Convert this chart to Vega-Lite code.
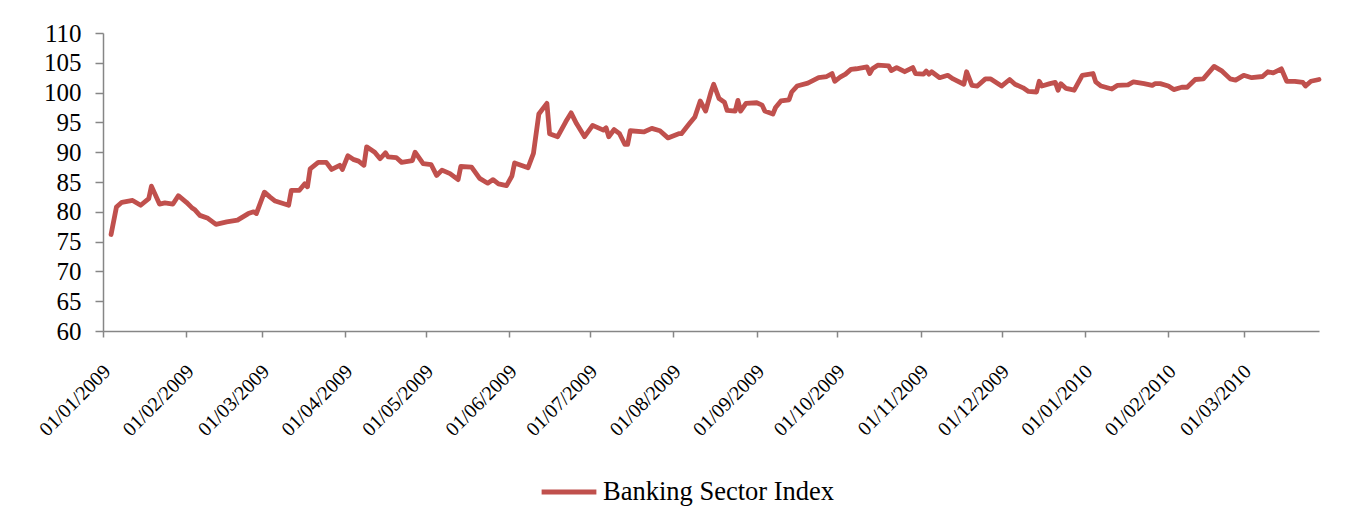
{
  "$schema": "https://vega.github.io/schema/vega-lite/v6.json",
  "width": 1216,
  "height": 298,
  "autosize": {"type": "none"},
  "padding": {"left": 103, "top": 33, "right": 50, "bottom": 198},
  "background": "white",
  "config": {"view": {"stroke": null}, "font": "Liberation Serif"},
  "data": {"values": [
    {"date": "2009-01-04", "value": 76.2},
    {"date": "2009-01-06", "value": 80.8},
    {"date": "2009-01-08", "value": 81.6},
    {"date": "2009-01-12", "value": 81.9},
    {"date": "2009-01-15", "value": 81.1},
    {"date": "2009-01-18", "value": 82.2},
    {"date": "2009-01-19", "value": 84.3},
    {"date": "2009-01-20", "value": 83.3},
    {"date": "2009-01-22", "value": 81.3},
    {"date": "2009-01-24", "value": 81.5},
    {"date": "2009-01-27", "value": 81.3},
    {"date": "2009-01-29", "value": 82.7},
    {"date": "2009-02-01", "value": 81.6},
    {"date": "2009-02-03", "value": 80.7},
    {"date": "2009-02-04", "value": 80.4},
    {"date": "2009-02-06", "value": 79.4},
    {"date": "2009-02-09", "value": 78.9},
    {"date": "2009-02-12", "value": 77.9},
    {"date": "2009-02-16", "value": 78.3},
    {"date": "2009-02-20", "value": 78.6},
    {"date": "2009-02-24", "value": 79.7},
    {"date": "2009-02-26", "value": 80.0},
    {"date": "2009-02-27", "value": 79.7},
    {"date": "2009-03-02", "value": 83.3},
    {"date": "2009-03-04", "value": 82.5},
    {"date": "2009-03-06", "value": 81.8},
    {"date": "2009-03-11", "value": 81.1},
    {"date": "2009-03-12", "value": 83.6},
    {"date": "2009-03-15", "value": 83.6},
    {"date": "2009-03-17", "value": 84.7},
    {"date": "2009-03-18", "value": 84.2},
    {"date": "2009-03-19", "value": 87.2},
    {"date": "2009-03-22", "value": 88.3},
    {"date": "2009-03-25", "value": 88.3},
    {"date": "2009-03-27", "value": 87.1},
    {"date": "2009-03-30", "value": 87.8},
    {"date": "2009-03-31", "value": 87.1},
    {"date": "2009-04-02", "value": 89.4},
    {"date": "2009-04-04", "value": 88.8},
    {"date": "2009-04-06", "value": 88.5},
    {"date": "2009-04-08", "value": 87.8},
    {"date": "2009-04-09", "value": 90.9},
    {"date": "2009-04-12", "value": 90.0},
    {"date": "2009-04-14", "value": 88.9},
    {"date": "2009-04-16", "value": 89.9},
    {"date": "2009-04-17", "value": 89.2},
    {"date": "2009-04-20", "value": 89.1},
    {"date": "2009-04-22", "value": 88.3},
    {"date": "2009-04-26", "value": 88.6},
    {"date": "2009-04-27", "value": 90.0},
    {"date": "2009-04-30", "value": 88.1},
    {"date": "2009-05-03", "value": 87.9},
    {"date": "2009-05-05", "value": 86.1},
    {"date": "2009-05-07", "value": 87.0},
    {"date": "2009-05-10", "value": 86.4},
    {"date": "2009-05-13", "value": 85.4},
    {"date": "2009-05-14", "value": 87.6},
    {"date": "2009-05-18", "value": 87.5},
    {"date": "2009-05-21", "value": 85.6},
    {"date": "2009-05-24", "value": 84.8},
    {"date": "2009-05-26", "value": 85.4},
    {"date": "2009-05-28", "value": 84.7},
    {"date": "2009-05-31", "value": 84.4},
    {"date": "2009-06-02", "value": 86.0},
    {"date": "2009-06-03", "value": 88.2},
    {"date": "2009-06-08", "value": 87.4},
    {"date": "2009-06-10", "value": 89.8},
    {"date": "2009-06-12", "value": 96.4},
    {"date": "2009-06-15", "value": 98.2},
    {"date": "2009-06-16", "value": 93.1},
    {"date": "2009-06-19", "value": 92.6},
    {"date": "2009-06-22", "value": 95.1},
    {"date": "2009-06-24", "value": 96.6},
    {"date": "2009-06-26", "value": 94.8},
    {"date": "2009-06-29", "value": 92.6},
    {"date": "2009-07-02", "value": 94.5},
    {"date": "2009-07-06", "value": 93.7},
    {"date": "2009-07-07", "value": 94.1},
    {"date": "2009-07-08", "value": 92.6},
    {"date": "2009-07-10", "value": 93.8},
    {"date": "2009-07-12", "value": 93.1},
    {"date": "2009-07-14", "value": 91.3},
    {"date": "2009-07-15", "value": 91.3},
    {"date": "2009-07-16", "value": 93.6},
    {"date": "2009-07-21", "value": 93.4},
    {"date": "2009-07-24", "value": 94.0},
    {"date": "2009-07-27", "value": 93.6},
    {"date": "2009-07-30", "value": 92.4},
    {"date": "2009-08-03", "value": 93.1},
    {"date": "2009-08-04", "value": 93.1},
    {"date": "2009-08-07", "value": 94.8},
    {"date": "2009-08-09", "value": 95.9},
    {"date": "2009-08-11", "value": 98.6},
    {"date": "2009-08-13", "value": 96.9},
    {"date": "2009-08-15", "value": 100.1},
    {"date": "2009-08-16", "value": 101.4},
    {"date": "2009-08-18", "value": 99.0},
    {"date": "2009-08-20", "value": 98.4},
    {"date": "2009-08-21", "value": 97.0},
    {"date": "2009-08-24", "value": 96.9},
    {"date": "2009-08-25", "value": 98.7},
    {"date": "2009-08-26", "value": 96.9},
    {"date": "2009-08-28", "value": 98.2},
    {"date": "2009-09-01", "value": 98.3},
    {"date": "2009-09-03", "value": 97.9},
    {"date": "2009-09-04", "value": 96.9},
    {"date": "2009-09-07", "value": 96.4},
    {"date": "2009-09-08", "value": 97.5},
    {"date": "2009-09-10", "value": 98.6},
    {"date": "2009-09-13", "value": 98.8},
    {"date": "2009-09-14", "value": 100.1},
    {"date": "2009-09-16", "value": 101.1},
    {"date": "2009-09-20", "value": 101.6},
    {"date": "2009-09-24", "value": 102.5},
    {"date": "2009-09-27", "value": 102.7},
    {"date": "2009-09-29", "value": 103.2},
    {"date": "2009-09-30", "value": 101.9},
    {"date": "2009-10-02", "value": 102.6},
    {"date": "2009-10-04", "value": 103.1},
    {"date": "2009-10-06", "value": 103.9},
    {"date": "2009-10-08", "value": 104.0},
    {"date": "2009-10-12", "value": 104.3},
    {"date": "2009-10-13", "value": 103.2},
    {"date": "2009-10-14", "value": 104.0},
    {"date": "2009-10-16", "value": 104.6},
    {"date": "2009-10-20", "value": 104.5},
    {"date": "2009-10-21", "value": 103.7},
    {"date": "2009-10-23", "value": 104.2},
    {"date": "2009-10-26", "value": 103.5},
    {"date": "2009-10-29", "value": 104.2},
    {"date": "2009-10-30", "value": 103.2},
    {"date": "2009-11-02", "value": 103.1},
    {"date": "2009-11-03", "value": 103.6},
    {"date": "2009-11-04", "value": 103.1},
    {"date": "2009-11-05", "value": 103.5},
    {"date": "2009-11-08", "value": 102.5},
    {"date": "2009-11-11", "value": 102.9},
    {"date": "2009-11-13", "value": 102.3},
    {"date": "2009-11-17", "value": 101.4},
    {"date": "2009-11-18", "value": 103.5},
    {"date": "2009-11-20", "value": 101.2},
    {"date": "2009-11-22", "value": 101.1},
    {"date": "2009-11-25", "value": 102.3},
    {"date": "2009-11-27", "value": 102.3},
    {"date": "2009-12-01", "value": 101.1},
    {"date": "2009-12-04", "value": 102.2},
    {"date": "2009-12-06", "value": 101.4},
    {"date": "2009-12-09", "value": 100.8},
    {"date": "2009-12-11", "value": 100.2},
    {"date": "2009-12-14", "value": 100.1},
    {"date": "2009-12-15", "value": 101.9},
    {"date": "2009-12-16", "value": 101.1},
    {"date": "2009-12-19", "value": 101.5},
    {"date": "2009-12-21", "value": 101.7},
    {"date": "2009-12-22", "value": 100.4},
    {"date": "2009-12-23", "value": 101.5},
    {"date": "2009-12-25", "value": 100.7},
    {"date": "2009-12-28", "value": 100.4},
    {"date": "2009-12-31", "value": 102.9},
    {"date": "2010-01-04", "value": 103.2},
    {"date": "2010-01-05", "value": 101.8},
    {"date": "2010-01-07", "value": 101.1},
    {"date": "2010-01-11", "value": 100.6},
    {"date": "2010-01-13", "value": 101.2},
    {"date": "2010-01-17", "value": 101.3},
    {"date": "2010-01-19", "value": 101.8},
    {"date": "2010-01-23", "value": 101.5},
    {"date": "2010-01-26", "value": 101.2},
    {"date": "2010-01-27", "value": 101.5},
    {"date": "2010-01-29", "value": 101.5},
    {"date": "2010-02-01", "value": 101.1},
    {"date": "2010-02-03", "value": 100.5},
    {"date": "2010-02-06", "value": 100.9},
    {"date": "2010-02-08", "value": 100.9},
    {"date": "2010-02-11", "value": 102.2},
    {"date": "2010-02-14", "value": 102.3},
    {"date": "2010-02-18", "value": 104.4},
    {"date": "2010-02-21", "value": 103.6},
    {"date": "2010-02-24", "value": 102.3},
    {"date": "2010-02-26", "value": 102.1},
    {"date": "2010-03-01", "value": 102.9},
    {"date": "2010-03-04", "value": 102.5},
    {"date": "2010-03-08", "value": 102.7},
    {"date": "2010-03-10", "value": 103.5},
    {"date": "2010-03-12", "value": 103.3},
    {"date": "2010-03-15", "value": 104.0},
    {"date": "2010-03-17", "value": 101.9},
    {"date": "2010-03-20", "value": 101.9},
    {"date": "2010-03-23", "value": 101.7},
    {"date": "2010-03-24", "value": 101.1},
    {"date": "2010-03-26", "value": 101.9},
    {"date": "2010-03-29", "value": 102.2}
  ]},
  "mark": {"type": "line", "strokeWidth": 4.8, "strokeJoin": "round", "strokeCap": "round"},
  "encoding": {
    "x": {
      "field": "date",
      "type": "temporal",
      "scale": {"type": "utc", "domain": [
        {"year": 2009, "month": 1, "date": 1, "utc": true},
        {"year": 2010, "month": 3, "date": 29, "utc": true}
      ]},
      "axis": {
        "title": null,
        "grid": false,
        "values": [
          {"year": 2009, "month": 1, "date": 1, "utc": true},
          {"year": 2009, "month": 2, "date": 1, "utc": true},
          {"year": 2009, "month": 3, "date": 1, "utc": true},
          {"year": 2009, "month": 4, "date": 1, "utc": true},
          {"year": 2009, "month": 5, "date": 1, "utc": true},
          {"year": 2009, "month": 6, "date": 1, "utc": true},
          {"year": 2009, "month": 7, "date": 1, "utc": true},
          {"year": 2009, "month": 8, "date": 1, "utc": true},
          {"year": 2009, "month": 9, "date": 1, "utc": true},
          {"year": 2009, "month": 10, "date": 1, "utc": true},
          {"year": 2009, "month": 11, "date": 1, "utc": true},
          {"year": 2009, "month": 12, "date": 1, "utc": true},
          {"year": 2010, "month": 1, "date": 1, "utc": true},
          {"year": 2010, "month": 2, "date": 1, "utc": true},
          {"year": 2010, "month": 3, "date": 1, "utc": true}
        ],
        "format": "%d/%m/%Y",
        "labelAngle": -45,
        "labelAlign": "right",
        "labelBaseline": "middle",
        "labelFont": "Liberation Serif",
        "labelFontSize": 20,
        "labelColor": "black",
        "labelOverlap": false,
        "labelFlush": false,
        "labelPadding": 31,
        "labelOffset": 4,
        "domainColor": "#868686",
        "domainWidth": 1.5,
        "tickColor": "#868686",
        "tickWidth": 1.5,
        "tickSize": 6
      }
    },
    "y": {
      "field": "value",
      "type": "quantitative",
      "scale": {"domain": [60, 110], "nice": false, "zero": false},
      "axis": {
        "title": null,
        "grid": false,
        "values": [60, 65, 70, 75, 80, 85, 90, 95, 100, 105, 110],
        "labelFont": "Liberation Serif",
        "labelFontSize": 25,
        "labelColor": "black",
        "labelPadding": 14,
        "domainColor": "#868686",
        "domainWidth": 1.5,
        "tickColor": "#868686",
        "tickWidth": 1.5,
        "tickSize": 8
      }
    },
    "color": {
      "datum": "Banking Sector Index",
      "scale": {"range": ["#C0504D"]},
      "legend": {
        "title": null,
        "orient": "none",
        "legendX": 436,
        "legendY": 429,
        "padding": 0,
        "symbolType": "stroke",
        "symbolSize": 3000,
        "symbolStrokeWidth": 5,
        "labelFont": "Liberation Serif",
        "labelFontSize": 26.5,
        "labelColor": "black",
        "labelOffset": 4,
        "labelLimit": 500
      }
    }
  }
}
